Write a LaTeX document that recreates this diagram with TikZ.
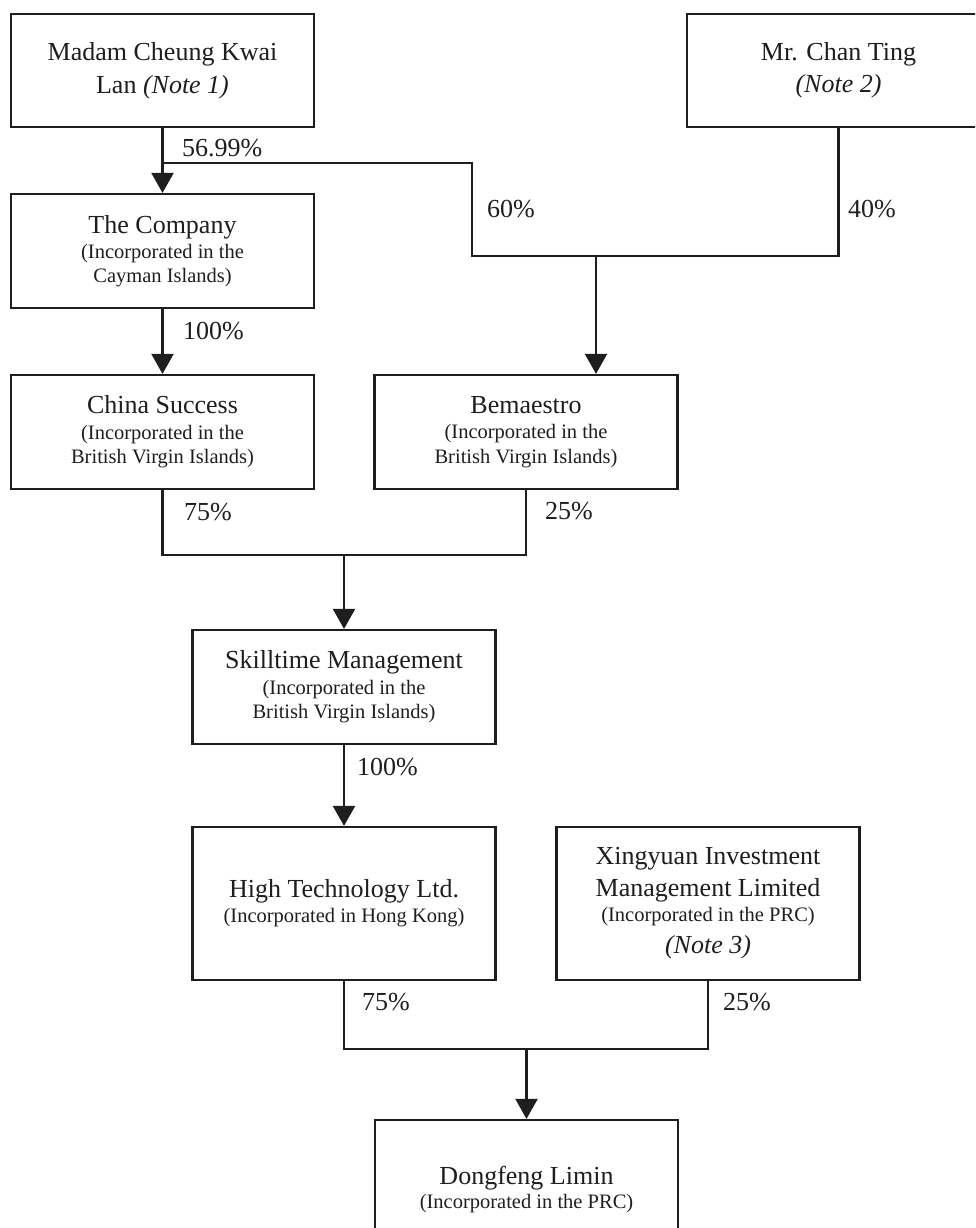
\documentclass[tikz,border=0pt]{standalone}
\usepackage{fontspec}
\setmainfont{Liberation Serif}
\usetikzlibrary{arrows.meta}
\newcommand{\smalltxt}{\fontsize{20.5}{24}\selectfont}
\definecolor{ink}{HTML}{1E1E1E}
\tikzset{
  box/.style={draw=ink, line width=2.2pt, minimum width=303pt, inner sep=0pt,
    align=center, text=ink, font=\fontsize{26}{33}\selectfont},
  conn/.style={draw=ink, line width=2.2pt},
  arr/.style={conn, -{Triangle[length=20pt,width=22pt]}},
  pct/.style={anchor=west, inner sep=0pt, text=ink, font=\fontsize{26}{33}\selectfont},
}
\begin{document}
\begin{tikzpicture}[x=1pt,y=-1pt]
\useasboundingbox (0,0) rectangle (975,1228);
\fill[white] (0,0) rectangle (975,1228);
\clip (0,0) rectangle (975,1228);

% boxes
\node[box, minimum height=113pt] (madam) at (162.5,70.5)
  {Madam Cheung Kwai\\ Lan \textit{(Note 1)}};
\node[box, minimum height=113pt] (chan) at (838.5,70.5)
  {Mr. Chan Ting\\[-1pt] \textit{(Note 2)}};
\node[box, minimum height=114pt] (company) at (162.5,251)
  {The Company\\[-8pt] \smalltxt (Incorporated in the\\[-9pt] \smalltxt Cayman Islands)};
\node[box, minimum height=114pt] (china) at (162.5,432)
  {China Success\\[-7pt] \smalltxt (Incorporated in the\\[-9pt] \smalltxt British Virgin Islands)};
\node[box, minimum height=114pt] (bema) at (526,432)
  {Bemaestro\\[-8pt] \smalltxt (Incorporated in the\\[-8pt] \smalltxt British Virgin Islands)};
\node[box, minimum height=114pt] (skill) at (344,687)
  {Skilltime Management\\[-7pt] \smalltxt (Incorporated in the\\[-9pt] \smalltxt British Virgin Islands)};
\node[box, minimum height=153pt] (hitech) at (344,903.5)
  {High Technology Ltd.\\[-8pt] \smalltxt (Incorporated in Hong Kong)};
\node[box, minimum height=153pt] (xing) at (708,903.5)
  {Xingyuan Investment\\[-1pt] Management Limited\\[-8pt] \smalltxt (Incorporated in the PRC)\\[-1pt] \textit{(Note 3)}};
\node[box, minimum height=140pt] (dong) at (526.5,1190)
  {Dongfeng Limin\\[-9pt] \smalltxt (Incorporated in the PRC)};

% junction points
\coordinate (a1) at (162.5,163);
\coordinate (a2) at (472,163);
\coordinate (a3) at (472,256);
\coordinate (a4) at (838.5,256);
\coordinate (a5) at (596,256);
\coordinate (b1) at (162.5,555);
\coordinate (b2) at (526,555);
\coordinate (b3) at (344,555);
\coordinate (c1) at (344,1049);
\coordinate (c2) at (708,1049);
\coordinate (c3) at (526.5,1049);

% connectors
\draw[arr] (madam.south) -- (company.north);
\draw[conn] (a1) -- (a2) -- (a3) -- (a4) -- (chan.south);
\draw[arr] (a5) -- (a5 |- bema.north);
\draw[arr] (company.south) -- (china.north);
\draw[conn] (china.south) -- (b1) -- (b2) -- (bema.south);
\draw[arr] (b3) -- (skill.north);
\draw[arr] (skill.south) -- (hitech.north);
\draw[conn] (hitech.south) -- (c1) -- (c2) -- (xing.south);
\draw[arr] (c3) -- (dong.north);

% percentages
\node[pct] (p1) at (182,148.5) {56.99\%};
\node[pct] (p2) at (487,209) {60\%};
\node[pct] (p3) at (848,209) {40\%};
\node[pct] (p4) at (183,331) {100\%};
\node[pct] (p5) at (184,512) {75\%};
\node[pct] (p6) at (545,511) {25\%};
\node[pct] (p7) at (357,767) {100\%};
\node[pct] (p8) at (362,1002) {75\%};
\node[pct] (p9) at (723,1002) {25\%};
\end{tikzpicture}
\end{document}
